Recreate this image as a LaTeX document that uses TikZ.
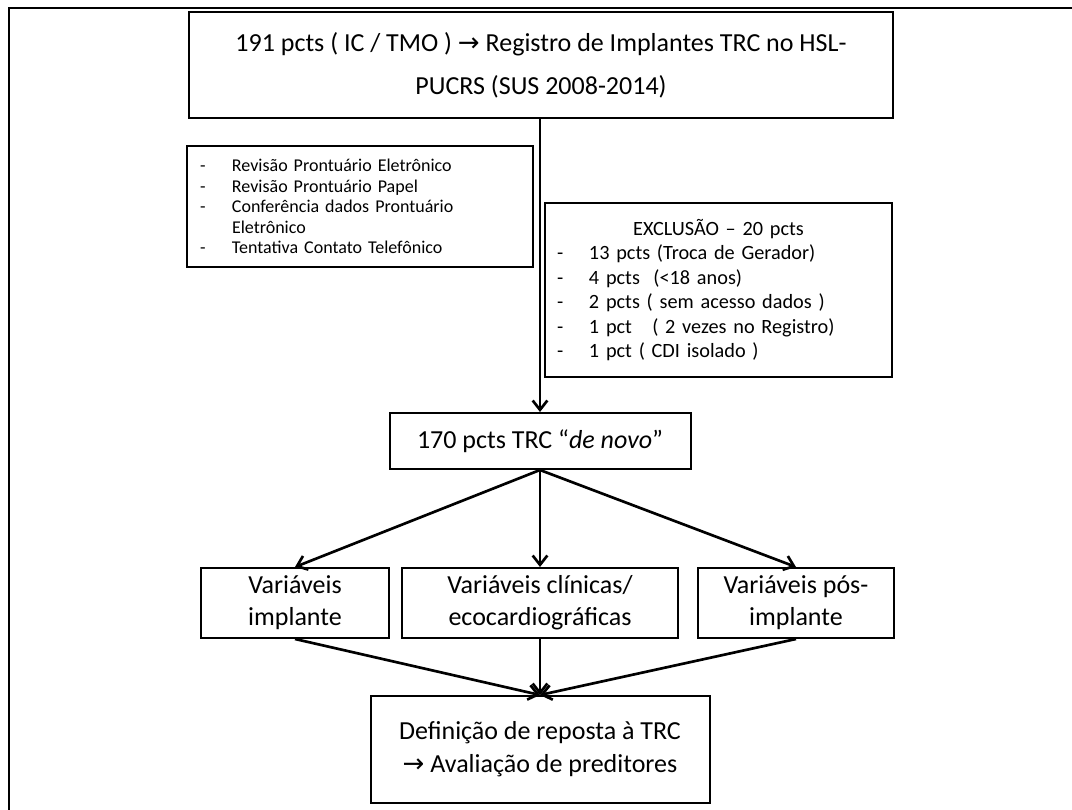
\documentclass[tikz,border=0pt]{standalone}
\usepackage{fontspec}
\setmainfont{Carlito}
\newfontfamily\arrowfont{DejaVu Sans}
\usetikzlibrary{arrows.meta}

\newcommand{\arw}{{\arrowfont\char"2192}}
\newcommand{\dashitem}[1]{\makebox[24pt][l]{-}\mbox{#1}}

\tikzset{
    box/.style={draw,line width=1.5pt,align=center,inner sep=0pt},
    bigtext/.style={font=\fontsize{19.5}{24}\selectfont},
    arr/.style={line width=2pt,-{Straight Barb[length=7pt,width=11pt]}},
}

\begin{document}
\begin{tikzpicture}[x=0.75pt,y=-0.75pt]
    \useasboundingbox (0,0) rectangle (1072,810);
    \draw[line width=2pt] (9,810) -- (9,8) -- (1072,8);

    % registro
    \node[box,font=\fontsize{19.5}{32}\selectfont,minimum width=528pt,minimum height=79.5pt]
        (reg) at (541,65) {191 pcts ( IC / TMO ) \arw{} Registro de Implantes TRC no HSL-\\PUCRS (SUS 2008-2014)};

    % revisao + exclusao
    \node[box,align=left,font=\fontsize{13.5}{15.4}\selectfont,inner xsep=9.75pt,text width=240pt,
        minimum width=259.5pt,minimum height=90.75pt] (rev) at (360,206.5) {%
        \dashitem{Revisão Prontuário Eletrônico}\\
        \dashitem{Revisão Prontuário Papel}\\
        \dashitem{Conferência dados Prontuário}\\
        \hspace*{24pt}\mbox{Eletrônico}\\
        \dashitem{Tentativa Contato Telefônico}};
    \node[box,align=left,font=\fontsize{15.2}{18.4}\selectfont,inner xsep=9pt,text width=242.25pt,
        minimum width=260.25pt,minimum height=130.5pt] (exc) at (718.5,290) {%
        \makebox[242.25pt][c]{EXCLUSÃO – 20 pcts}\\
        \dashitem{13 pcts (Troca de Gerador)}\\
        \dashitem{4 pcts~ (<18 anos)}\\
        \dashitem{2 pcts ( sem acesso dados )}\\
        \dashitem{1 pct~~ ( 2 vezes no Registro)}\\
        \dashitem{1 pct ( CDI isolado )}};

    \node[box,bigtext,minimum width=225.75pt,minimum height=42pt]
        (novo) at (540,441) {170 pcts TRC “\textit{de novo}”};

    % variaveis
    \foreach \n/\x/\w/\t in {var_imp/295/141pt/{Variáveis\\implante},
                             var_cli/540/207pt/{Variáveis clínicas/\\ecocardiográficas},
                             var_pos/796/147pt/{Variáveis pós-\\implante}}
    {
        \node[box,bigtext,minimum width=\w,minimum height=52.5pt] (\n) at (\x,603) {\t};
    }

    \node[box,font=\fontsize{19.5}{24.75}\selectfont,minimum width=254.25pt,minimum height=80.25pt]
        (resp) at (540,749.5) {Definição de reposta à TRC\\\arw{} Avaliação de preditores};

    \draw[arr] (reg.south -| novo.north) -- (novo.north);
    \foreach \n in {var_imp,var_cli,var_pos}
    {
        \draw[arr] (novo.south) -- (\n.north);
        \draw[arr] (\n.south) -- (resp.north);
    }

\end{tikzpicture}
\end{document}
